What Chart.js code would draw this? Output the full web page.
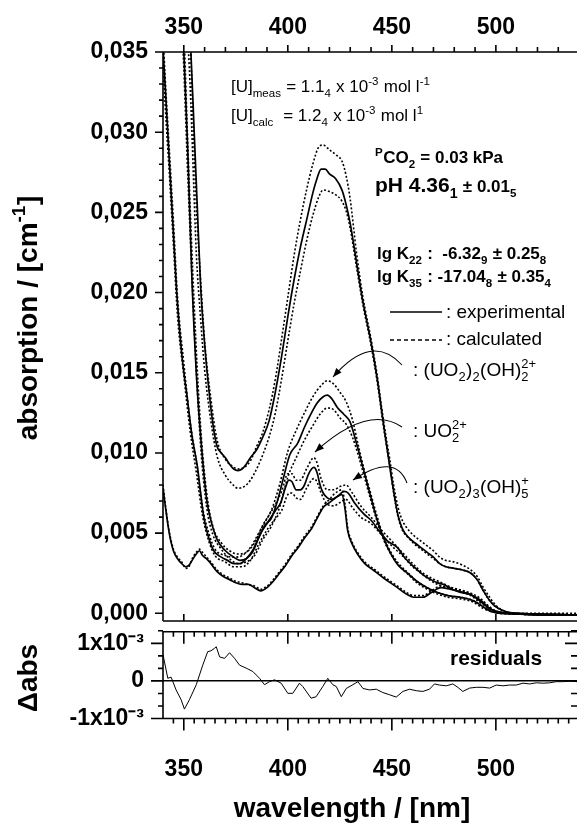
<!DOCTYPE html>
<html>
<head>
<meta charset="utf-8">
<title>Uranyl hydrolysis absorption spectra</title>
<script src="https://cdn.jsdelivr.net/npm/chart.js@4.4.1/dist/chart.umd.min.js"></script>
<style>
  body { margin: 0; background: #fff; }
  #wrap { position: relative; width: 577px; height: 825px; overflow: hidden; }
  canvas { position: absolute; left: 0; }
  #mainChart { top: 0; }
  #resChart { top: 625px; }
</style>
</head>
<body>
<div id="wrap">
  <canvas id="mainChart" width="577" height="625"></canvas>
  <canvas id="resChart" width="577" height="200"></canvas>
</div>
<script>
// ---- data (wavelength in nm, absorption in cm-1) ----

// total measured spectrum
const totalWl = [340, 350, 353.4, 355, 356.5, 358, 360, 362, 364, 366, 368, 370, 372, 374, 376, 378, 380, 382, 385, 388, 391, 394, 397, 400, 403, 406, 409, 412, 414, 416, 418, 420, 423, 426, 428, 430, 433, 436, 440, 443, 446, 448.7, 451, 453, 455, 457.5, 461, 464, 467, 470, 473, 476, 480, 484, 488, 491, 494, 497, 500, 505, 510, 520, 530, 539];
const totalExp = [0.060, 0.042, 0.035, 0.030, 0.0253, 0.0206, 0.0168, 0.0140, 0.0118, 0.0104, 0.0100, 0.0097, 0.0093, 0.0090, 0.0089, 0.0090, 0.0093, 0.0097, 0.0102, 0.0110, 0.0120, 0.0138, 0.0160, 0.0185, 0.0208, 0.0228, 0.0245, 0.0262, 0.0271, 0.0277, 0.0277, 0.0274, 0.0271, 0.0264, 0.0255, 0.0243, 0.0219, 0.0195, 0.0169, 0.0146, 0.0118, 0.0094, 0.0075, 0.0061, 0.0053, 0.0048, 0.0044, 0.0041, 0.0038, 0.0035, 0.0031, 0.0029, 0.0028, 0.0027, 0.0025, 0.0021, 0.0014, 0.0008, 0.0004, 0.0001, 0.0000, -0.0001, -0.0001, -0.0001];
const totalCalcWl = [340, 350, 353, 356, 358, 360, 363, 366, 370, 373, 376, 379, 382, 385, 388, 391, 394, 397, 400, 403, 406, 409, 412, 415, 417, 420, 423, 426, 428, 430, 433, 436, 440, 443, 446, 449, 451, 453, 455, 458, 461, 464, 467, 470, 473, 476, 480, 484, 488, 491, 494, 497, 500, 505, 510, 539];
const totalCalcHi = [0.061, 0.043, 0.036, 0.0255, 0.021, 0.0170, 0.0134, 0.0108, 0.0096, 0.0092, 0.0090, 0.0091, 0.0095, 0.0104, 0.0113, 0.0127, 0.0146, 0.0171, 0.0197, 0.0223, 0.0245, 0.0264, 0.0280, 0.0291, 0.0292, 0.0289, 0.0286, 0.0282, 0.0273, 0.0258, 0.0225, 0.0198, 0.0171, 0.0148, 0.0120, 0.0096, 0.0079, 0.0066, 0.0058, 0.0052, 0.0048, 0.0045, 0.0042, 0.0039, 0.0035, 0.0033, 0.0032, 0.0030, 0.0027, 0.0023, 0.0016, 0.0010, 0.0005, 0.0001, 0.0000, 0.0000];
const totalCalcLo = [0.058, 0.040, 0.033, 0.0225, 0.0185, 0.0152, 0.0120, 0.0098, 0.0086, 0.0081, 0.0078, 0.0079, 0.0083, 0.0090, 0.0099, 0.0110, 0.0125, 0.0146, 0.0170, 0.0193, 0.0213, 0.0232, 0.0248, 0.0260, 0.0264, 0.0263, 0.0261, 0.0257, 0.0251, 0.0240, 0.0216, 0.0193, 0.0167, 0.0144, 0.0116, 0.0092, 0.0074, 0.0060, 0.0052, 0.0047, 0.0043, 0.0040, 0.0037, 0.0034, 0.0031, 0.0029, 0.0028, 0.0027, 0.0025, 0.0021, 0.0014, 0.0008, 0.0004, 0.0001, 0.0000, -0.0001];

// (UO2)2(OH)2 2+
const dimerWl = [340, 348, 350, 351.8, 354, 356, 358, 361, 363, 366, 370, 374, 377, 380, 383, 386, 389, 392, 395, 398, 401, 404.7, 408, 411, 414, 417, 419, 421, 424, 427, 430, 433, 436.5, 440, 443, 446, 449.5, 453, 457.5, 462, 467, 472, 477, 483, 489, 494, 498, 505, 539];
const dimerExp = [0.09, 0.041, 0.035, 0.0292, 0.0205, 0.0150, 0.0112, 0.0071, 0.0058, 0.0046, 0.0039, 0.0035, 0.0033, 0.0034, 0.0038, 0.0047, 0.0055, 0.0059, 0.0070, 0.0085, 0.0099, 0.0106, 0.0116, 0.0124, 0.0131, 0.0135, 0.0136, 0.0134, 0.0128, 0.0124, 0.0119, 0.0106, 0.0089, 0.0072, 0.0058, 0.0047, 0.0037, 0.0030, 0.0025, 0.0020, 0.0016, 0.0013, 0.0011, 0.0010, 0.0008, 0.0004, 0.0001, 0.0000, -0.0001];
const dimerCalcWl = [340, 348, 350, 352, 355, 358, 361, 364, 368, 372, 376, 380, 384, 388, 392, 396, 400, 404, 408, 412, 416, 419, 422, 425, 428, 431, 434, 437, 440, 443, 446, 450, 454, 458, 462, 467, 472, 477, 483, 489, 494, 498, 505, 539];
const dimerCalcHi = [0.09, 0.042, 0.0365, 0.0290, 0.0192, 0.0118, 0.0075, 0.0054, 0.0044, 0.0039, 0.0037, 0.0038, 0.0044, 0.0055, 0.0064, 0.0080, 0.0101, 0.0114, 0.0125, 0.0135, 0.0142, 0.0145, 0.0143, 0.0138, 0.0132, 0.0121, 0.0104, 0.0088, 0.0074, 0.0060, 0.0048, 0.0037, 0.0030, 0.0025, 0.0020, 0.0016, 0.0013, 0.0011, 0.0010, 0.0008, 0.0004, 0.0001, 0.0000, -0.0001];
const dimerCalcLo = [0.088, 0.040, 0.0340, 0.0270, 0.0178, 0.0106, 0.0066, 0.0049, 0.0040, 0.0034, 0.0031, 0.0032, 0.0036, 0.0046, 0.0054, 0.0066, 0.0085, 0.0097, 0.0108, 0.0117, 0.0125, 0.0128, 0.0127, 0.0122, 0.0118, 0.0110, 0.0098, 0.0084, 0.0070, 0.0057, 0.0046, 0.0036, 0.0029, 0.0024, 0.0019, 0.0015, 0.0012, 0.0010, 0.0009, 0.0007, 0.0003, 0.0001, 0.0000, -0.0001];

// UO2 2+
const uo2Wl = [340, 341.3, 343, 345, 346.5, 349, 351.8, 354, 356.6, 358, 359.6, 362, 364.4, 368, 371, 374, 377, 380, 383, 387, 390, 392, 394, 396.6, 399, 400.5, 402, 404, 406, 408, 410, 412.5, 414, 415.5, 417, 419, 421, 424, 427, 429, 432, 436.5, 440, 444.7, 448, 452.7, 456, 460.6, 465, 468.8, 472, 475, 479, 483, 487, 490, 493, 497, 502, 539];
const uo2Exp = [0.0352, 0.0323, 0.0283, 0.0237, 0.0202, 0.0162, 0.0133, 0.0110, 0.0091, 0.0076, 0.0060, 0.0047, 0.0039, 0.0035, 0.0033, 0.0031, 0.0031, 0.0034, 0.0039, 0.0050, 0.0056, 0.0060, 0.0064, 0.0069, 0.0079, 0.0083, 0.0082, 0.0077, 0.0077, 0.0080, 0.0087, 0.0091, 0.0088, 0.0080, 0.0075, 0.0072, 0.0071, 0.0073, 0.0076, 0.0075, 0.0069, 0.0062, 0.0058, 0.0050, 0.0045, 0.0041, 0.0035, 0.0029, 0.0024, 0.0021, 0.0019, 0.0018, 0.0015, 0.0013, 0.0012, 0.0010, 0.0007, 0.0003, 0.0000, -0.0001];
const uo2CalcWl = [340, 341, 343, 345, 347, 350, 353, 356, 359, 362, 365, 370, 374, 378, 382, 386, 390, 394, 397, 400, 402, 404, 406, 409, 412.5, 414, 416, 419, 422, 425, 428, 431, 435, 440, 445, 450, 455, 460, 465, 469, 474, 479, 484, 488, 492, 497, 502, 539];
const uo2CalcHi = [0.0362, 0.0335, 0.0290, 0.0245, 0.0197, 0.0156, 0.0120, 0.0095, 0.0066, 0.0050, 0.0040, 0.0036, 0.0035, 0.0036, 0.0041, 0.0050, 0.0059, 0.0068, 0.0076, 0.0087, 0.0087, 0.0083, 0.0083, 0.0090, 0.0097, 0.0094, 0.0084, 0.0077, 0.0077, 0.0079, 0.0080, 0.0075, 0.0067, 0.0060, 0.0052, 0.0045, 0.0038, 0.0031, 0.0025, 0.0022, 0.0019, 0.0016, 0.0014, 0.0012, 0.0008, 0.0003, 0.0000, -0.0001];
const uo2CalcLo = [0.0345, 0.0318, 0.0275, 0.0230, 0.0185, 0.0148, 0.0114, 0.0088, 0.0061, 0.0045, 0.0036, 0.0032, 0.0029, 0.0029, 0.0033, 0.0043, 0.0052, 0.0059, 0.0064, 0.0074, 0.0075, 0.0072, 0.0071, 0.0078, 0.0084, 0.0082, 0.0075, 0.0068, 0.0067, 0.0069, 0.0071, 0.0066, 0.0060, 0.0056, 0.0049, 0.0042, 0.0036, 0.0029, 0.0024, 0.0020, 0.0017, 0.0015, 0.0013, 0.0011, 0.0007, 0.0003, 0.0000, -0.0001];

// (UO2)3(OH)5 +
const trimerWl = [340, 341, 343, 345, 347, 349, 351, 352.5, 354, 356, 357.5, 359, 361, 363, 366, 369, 372, 375, 378, 381, 384, 387, 390, 393, 396, 399, 402, 405, 408, 411, 414, 417, 420, 422, 424, 426, 427.5, 428.7, 431, 433.5, 437, 441, 446, 452.7, 457, 460.6, 465, 469, 473.6, 478, 484.6, 489, 492.8, 497, 501, 510, 539];
const trimerExp = [0.0078, 0.0068, 0.0050, 0.0039, 0.0034, 0.0031, 0.0029, 0.0030, 0.0033, 0.0037, 0.0039, 0.0036, 0.0034, 0.0031, 0.0026, 0.0023, 0.0021, 0.0019, 0.0018, 0.0018, 0.0016, 0.0014, 0.0016, 0.0020, 0.0025, 0.0030, 0.0036, 0.0041, 0.0047, 0.0052, 0.0059, 0.0066, 0.0069, 0.0071, 0.0073, 0.0074, 0.0065, 0.0052, 0.0043, 0.0037, 0.0031, 0.0027, 0.0022, 0.0016, 0.0012, 0.0010, 0.0010, 0.0013, 0.0016, 0.0015, 0.0013, 0.0011, 0.0008, 0.0003, 0.0001, 0.0000, -0.0001];
const trimerCalc = [0.0080, 0.0069, 0.0051, 0.0040, 0.0035, 0.0032, 0.0028, 0.0029, 0.0034, 0.0038, 0.0040, 0.0038, 0.0035, 0.0032, 0.0027, 0.0024, 0.0022, 0.0020, 0.0019, 0.0018, 0.0017, 0.0015, 0.0017, 0.0021, 0.0026, 0.0031, 0.0037, 0.0042, 0.0048, 0.0053, 0.0060, 0.0067, 0.0071, 0.0074, 0.0076, 0.0077, 0.0068, 0.0054, 0.0044, 0.0038, 0.0032, 0.0028, 0.0023, 0.0017, 0.0013, 0.0011, 0.0011, 0.0014, 0.0017, 0.0016, 0.0014, 0.0012, 0.0009, 0.0004, 0.0001, 0.0000, -0.0001];

// residuals (units of 1e-3)
const resWl = [340, 342.3, 343.9, 346.3, 348.7, 350.3, 352.7, 356, 359.1, 361.5, 363, 364.8, 365.6, 367.2, 369.6, 372, 374.4, 376.8, 380, 383.2, 386.4, 388.8, 391.2, 393.6, 396.8, 400, 402.4, 405.6, 407.2, 411.2, 413.6, 416.8, 419.2, 421.6, 423.3, 425.7, 428.1, 431.3, 433.7, 436.1, 439.3, 442.5, 445.7, 449, 452.1, 455.3, 458.5, 461.7, 464.9, 468.1, 470.5, 472.9, 476.2, 479.3, 481.7, 484.1, 487.4, 490.6, 493.8, 497, 500.2, 503.4, 506.6, 509.8, 513, 516.2, 519.4, 522.6, 525.8, 529, 532.2, 535.4, 539];
const resMilli = [0.70, 0.07, 0.10, -0.24, -0.50, -0.75, -0.50, -0.10, 0.42, 0.78, 0.80, 0.87, 0.91, 0.64, 0.60, 0.75, 0.60, 0.42, 0.34, 0.25, 0.07, -0.10, -0.02, 0.03, -0.06, -0.33, -0.33, -0.06, -0.15, -0.46, -0.42, -0.15, 0.07, -0.10, -0.15, -0.42, -0.20, -0.10, -0.02, -0.20, -0.24, -0.22, -0.31, -0.37, -0.43, -0.28, -0.22, -0.26, -0.28, -0.22, -0.08, -0.11, -0.13, -0.08, -0.17, -0.28, -0.19, -0.17, -0.17, -0.19, -0.11, -0.13, -0.11, -0.11, -0.06, -0.08, -0.05, -0.06, -0.05, -0.02, -0.02, 0.00, -0.02];

// tick labels
const wlTickValues = [350, 400, 450, 500];
const absTickValues = [0, 0.005, 0.010, 0.015, 0.020, 0.025, 0.030, 0.035];
const resTickValues = [-1, 0, 1];
const resTickLabels = ['-1x10\u207B\u00B3', '0', '1x10\u207B\u00B3'];

// ---- styling ----
const FONT = "'Liberation Sans', Arial, Helvetica, sans-serif";
const INK = '#000';
const tickFont = { family: FONT, size: 23, weight: 'bold' };
const X_MIN = 340, X_MAX = 539;

function pts(wl, vals) {
    return wl.map((x, i) => ({ x: x, y: vals[i] }));
}

function spectrum(wl, vals, dotted) {
    return {
        data: pts(wl, vals),
        borderColor: INK,
        borderWidth: dotted ? 1.6 : 1.7,
        borderDash: dotted ? [2, 2] : [],
        pointRadius: 0,
        cubicInterpolationMode: 'monotone',
        fill: false
    };
}

// fixed axis box, no extra room for end labels
function fixSize(width, height) {
    return s => {
        if (width !== null) s.width = width;
        if (height !== null) s.height = height;
        s.paddingTop = 0;
        s.paddingBottom = 0;
        s.paddingLeft = 0;
        s.paddingRight = 0;
    };
}

// draws text made of plain runs, subscripts and superscripts; returns end x
function richText(ctx, x, y, parts, size, weight, dry) {
    let cx = x;
    parts.forEach(p => {
        const item = typeof p === 'string' ? { t: p } : p;
        const fs = item.size || size;
        if (item.t !== undefined) {
            ctx.font = weight + ' ' + fs + 'px ' + FONT;
            if (!dry) ctx.fillText(item.t, cx, y);
            cx += ctx.measureText(item.t).width;
        } else {
            ctx.font = weight + ' ' + (fs * 0.68) + 'px ' + FONT;
            let w = 0;
            if (item.sub) {
                if (!dry) ctx.fillText(item.sub, cx, y + fs * 0.28);
                w = Math.max(w, ctx.measureText(item.sub).width);
            }
            if (item.sup) {
                if (!dry) ctx.fillText(item.sup, cx, y - fs * 0.42);
                w = Math.max(w, ctx.measureText(item.sup).width);
            }
            cx += w + 0.5;
        }
    });
    return cx;
}

function verticalTitle(ctx, x, yCenter, parts, size) {
    ctx.save();
    ctx.translate(x, yCenter);
    ctx.rotate(-Math.PI / 2);
    const w = richText(ctx, 0, 0, parts, size, 'bold', true);
    richText(ctx, -w / 2, 0, parts, size, 'bold');
    ctx.restore();
}

function curvedArrow(ctx, x0, y0, cx, cy, x1, y1) {
    ctx.beginPath();
    ctx.moveTo(x0, y0);
    ctx.quadraticCurveTo(cx, cy, x1, y1);
    ctx.stroke();
    const a = Math.atan2(y1 - cy, x1 - cx);
    const L = 9, W = 3.5;
    ctx.beginPath();
    ctx.moveTo(x1, y1);
    ctx.lineTo(x1 - L * Math.cos(a) + W * Math.sin(a), y1 - L * Math.sin(a) - W * Math.cos(a));
    ctx.lineTo(x1 - L * Math.cos(a) - W * Math.sin(a), y1 - L * Math.sin(a) + W * Math.cos(a));
    ctx.closePath();
    ctx.fill();
}

function range(from, to, step) {
    const out = [];
    for (let v = from; v <= to + 1e-9; v += step) out.push(+v.toFixed(6));
    return out;
}

// frame, tick marks and annotations of the spectra panel
const mainDecor = {
    id: 'mainDecor',
    afterDraw(chart) {
        const ctx = chart.ctx;
        const { left, right, top, bottom } = chart.chartArea;
        const xs = chart.scales.x, ys = chart.scales.y;
        ctx.save();
        ctx.strokeStyle = INK;
        ctx.fillStyle = INK;
        ctx.lineWidth = 1.6;
        ctx.setLineDash([]);

        ctx.beginPath();
        ctx.moveTo(left, bottom); ctx.lineTo(left, top); ctx.lineTo(right, top);
        ctx.moveTo(left, bottom); ctx.lineTo(right, bottom);
        // top axis: every 10 nm, outward
        range(350, 530, 10).forEach(v => {
            const px = xs.getPixelForValue(v);
            ctx.moveTo(px, top); ctx.lineTo(px, top - (v % 50 === 0 ? 7 : 5));
        });
        // bottom axis: majors only, inward
        wlTickValues.forEach(v => {
            const px = xs.getPixelForValue(v);
            ctx.moveTo(px, bottom); ctx.lineTo(px, bottom - 7);
        });
        // left axis: every 0.001, outward
        range(0, 35, 1).forEach(k => {
            const py = ys.getPixelForValue(k / 1000);
            ctx.moveTo(left, py); ctx.lineTo(left - (k % 5 === 0 ? 8 : 4), py);
        });
        ctx.stroke();

        // legend samples
        ctx.lineWidth = 1.7;
        ctx.beginPath(); ctx.moveTo(390, 312); ctx.lineTo(442, 312); ctx.stroke();
        ctx.setLineDash([4, 3]);
        ctx.beginPath(); ctx.moveTo(390, 340); ctx.lineTo(442, 340); ctx.stroke();
        ctx.setLineDash([]);

        // arrows from the species labels to their spectra
        ctx.lineWidth = 1.1;
        curvedArrow(ctx, 402, 365, 372, 332, 333, 377);
        curvedArrow(ctx, 402, 427, 368, 404, 315, 452);
        curvedArrow(ctx, 407, 483, 395, 452, 353, 480);

        ctx.textAlign = 'left';
        ctx.textBaseline = 'alphabetic';
        richText(ctx, 231, 92, ['[U]', { sub: 'meas' }, ' = 1.1', { sub: '4' }, ' x 10', { sup: '-3' }, ' mol l', { sup: '-1' }], 17, 'normal');
        richText(ctx, 231, 121, ['[U]', { sub: 'calc' }, '  = 1.2', { sub: '4' }, ' x 10', { sup: '-3' }, ' mol l', { sup: '1' }], 17, 'normal');
        richText(ctx, 375, 163, [{ sup: 'P' }, 'CO', { sub: '2' }, ' = 0.03 kPa'], 17, 'bold');
        richText(ctx, 375, 192, [{ t: 'pH 4.36', size: 21 }, { sub: '1', size: 21 }, { t: ' \u00B1 0.01', size: 17 }, { sub: '5', size: 17 }], 17, 'bold');
        richText(ctx, 377, 259, ['lg K', { sub: '22' }, ' :  -6.32', { sub: '9' }, ' \u00B1 0.25', { sub: '8' }], 17, 'bold');
        richText(ctx, 377, 282, ['lg K', { sub: '35' }, ' : -17.04', { sub: '8' }, ' \u00B1 0.35', { sub: '4' }], 17, 'bold');
        richText(ctx, 446, 318, [': experimental'], 19, 'normal');
        richText(ctx, 446, 345, [': calculated'], 19, 'normal');
        richText(ctx, 413, 376, [': (UO', { sub: '2' }, ')', { sub: '2' }, '(OH)', { sub: '2', sup: '2+' }], 19, 'normal');
        richText(ctx, 413, 437, [': UO', { sub: '2', sup: '2+' }], 19, 'normal');
        richText(ctx, 413, 493, [': (UO', { sub: '2' }, ')', { sub: '3' }, '(OH)', { sub: '5', sup: '+' }], 19, 'normal');

        verticalTitle(ctx, 37, 318, ['absorption / [cm', { sup: '-1' }, ']'], 28);
        ctx.restore();
    }
};

// frame, tick marks and titles of the residual panel
const resDecor = {
    id: 'resDecor',
    afterDraw(chart) {
        const ctx = chart.ctx;
        const { left, right, top, bottom } = chart.chartArea;
        const xs = chart.scales.x, ys = chart.scales.y;
        ctx.save();
        ctx.strokeStyle = INK;
        ctx.fillStyle = INK;
        ctx.lineWidth = 1.6;
        ctx.beginPath();
        ctx.moveTo(left, bottom); ctx.lineTo(left, top); ctx.lineTo(right, top);
        ctx.moveTo(left, bottom); ctx.lineTo(right, bottom);
        range(345, 535, 5).forEach(v => {
            const px = xs.getPixelForValue(v);
            const len = v % 50 === 0 ? 12 : 5;
            ctx.moveTo(px, top); ctx.lineTo(px, top + len);
            ctx.moveTo(px, bottom); ctx.lineTo(px, bottom + len);
        });
        range(-3, 4, 1).forEach(k => {
            const py = ys.getPixelForValue(k / 3);
            const major = k % 3 === 0;
            ctx.moveTo(left, py); ctx.lineTo(left - (major ? 12 : 5), py);
            ctx.moveTo(right, py); ctx.lineTo(right - (major ? 12 : 6), py);
        });
        ctx.stroke();

        ctx.textAlign = 'left';
        ctx.textBaseline = 'alphabetic';
        richText(ctx, 450, 40, ['residuals'], 21, 'bold');
        verticalTitle(ctx, 37, 53, ['\u0394abs'], 28);
        const title = ['wavelength / [nm]'];
        const w = richText(ctx, 0, 0, title, 28, 'bold', true);
        richText(ctx, 352 - w / 2, 192, title, 28, 'bold');
        ctx.restore();
    }
};

new Chart(document.getElementById('mainChart'), {
    type: 'line',
    data: {
        datasets: [
            spectrum(totalWl, totalExp, false),
            spectrum(totalCalcWl, totalCalcHi, true),
            spectrum(totalCalcWl, totalCalcLo, true),
            spectrum(dimerWl, dimerExp, false),
            spectrum(dimerCalcWl, dimerCalcHi, true),
            spectrum(dimerCalcWl, dimerCalcLo, true),
            spectrum(uo2Wl, uo2Exp, false),
            spectrum(uo2CalcWl, uo2CalcHi, true),
            spectrum(uo2CalcWl, uo2CalcLo, true),
            spectrum(trimerWl, trimerExp, false),
            spectrum(trimerWl, trimerCalc, true)
        ]
    },
    options: {
        responsive: false,
        animation: false,
        devicePixelRatio: 1,
        layout: { padding: { top: 0, right: 0, bottom: 4, left: 0 } },
        plugins: { legend: { display: false }, tooltip: { enabled: false } },
        scales: {
            x: { type: 'linear', min: X_MIN, max: X_MAX, display: false },
            xTop: {
                type: 'linear',
                position: 'top',
                min: X_MIN,
                max: X_MAX,
                afterBuildTicks: s => { s.ticks = wlTickValues.map(value => ({ value })); },
                afterFit: fixSize(null, 52),
                grid: { display: false, drawTicks: false },
                border: { display: false },
                ticks: { font: tickFont, color: INK, padding: 11, maxRotation: 0, autoSkip: false }
            },
            y: {
                type: 'linear',
                min: -0.00048,
                max: 0.035,
                afterBuildTicks: s => { s.ticks = absTickValues.map(value => ({ value })); },
                afterFit: fixSize(163, null),
                grid: { display: false, drawTicks: false },
                border: { display: false },
                ticks: {
                    font: tickFont,
                    color: INK,
                    padding: 15,
                    callback: v => v.toFixed(3).replace('.', ',')
                }
            }
        }
    },
    plugins: [mainDecor]
});

new Chart(document.getElementById('resChart'), {
    type: 'line',
    data: {
        datasets: [{
            data: pts(resWl, resMilli),
            borderColor: INK,
            borderWidth: 1,
            pointRadius: 0,
            tension: 0,
            fill: false
        }]
    },
    options: {
        responsive: false,
        animation: false,
        devicePixelRatio: 1,
        layout: { padding: { top: 6.7, right: 0, bottom: 0, left: 0 } },
        plugins: { legend: { display: false }, tooltip: { enabled: false } },
        scales: {
            x: {
                type: 'linear',
                position: 'bottom',
                min: X_MIN,
                max: X_MAX,
                afterBuildTicks: s => { s.ticks = wlTickValues.map(value => ({ value })); },
                afterFit: fixSize(null, 106.5),
                grid: { display: false, drawTicks: false },
                border: { display: false },
                ticks: { font: tickFont, color: INK, padding: 37, maxRotation: 0, autoSkip: false }
            },
            y: {
                type: 'linear',
                min: -1,
                max: 1.31,
                afterBuildTicks: s => { s.ticks = resTickValues.map(value => ({ value })); },
                afterFit: fixSize(163, null),
                grid: {
                    drawTicks: false,
                    lineWidth: 1.5,
                    color: c => (c.tick && c.tick.value === 0 ? INK : 'rgba(0,0,0,0)')
                },
                border: { display: false },
                ticks: {
                    font: tickFont,
                    color: INK,
                    padding: 19,
                    callback: v => resTickLabels[resTickValues.indexOf(v)]
                }
            }
        }
    },
    plugins: [resDecor]
});
</script>
</body>
</html>
